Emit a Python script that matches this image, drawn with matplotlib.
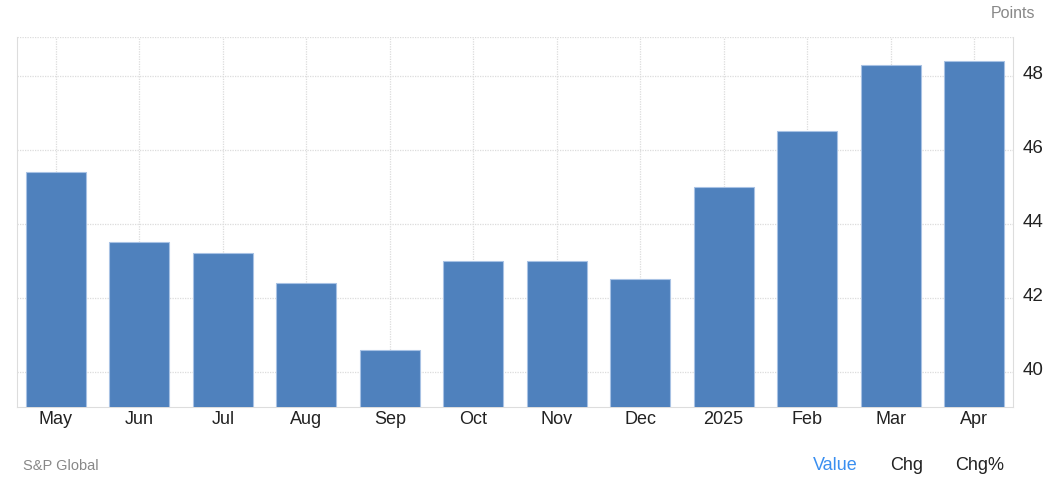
import matplotlib
matplotlib.use("Agg")
import matplotlib.pyplot as plt
from matplotlib.transforms import ScaledTranslation

plt.rcParams["font.family"] = "Liberation Sans"

# 데이터
months = ["May", "Jun", "Jul", "Aug", "Sep", "Oct", "Nov", "Dec", "2025", "Feb", "Mar", "Apr"]
values = [45.4, 43.5, 43.2, 42.4, 40.6, 43.0, 43.0, 42.5, 45.0, 46.5, 48.3, 48.4]
yticks = [40, 42, 44, 46, 48]

fig = plt.figure(figsize=(10.47, 4.8), dpi=100)
ax = fig.add_axes([17 / 1047, 1 - 407 / 480, (1013 - 17) / 1047, (407 - 37) / 480])

x = list(range(len(months)))
ax.bar(x, values, width=0.72, color="#4f81bd", edgecolor="#a8c2e4", linewidth=0.8, zorder=3)

ax.set_xlim(-0.467, len(months) - 1 + 0.467)
ax.set_ylim(39.05, 49.05)
ax.set_xticks(x)
ax.set_xticklabels(months)
ax.set_yticks(yticks)
ax.yaxis.tick_right()
ax.tick_params(axis="x", length=0, labelsize=13, colors="#222222", pad=3)
ax.tick_params(axis="y", length=0, labelsize=13.5, colors="#222222", pad=7)

# 눈금 라벨을 살짝 위로
for lbl in ax.get_yticklabels():
    lbl.set_transform(lbl.get_transform() + ScaledTranslation(0, 3 / 100, fig.dpi_scale_trans))

ax.grid(True, color="#dcdcdc", linestyle=(0, (1, 1)), linewidth=0.9, zorder=0)
for s in ["left", "right", "bottom"]:
    ax.spines[s].set_color("#dddddd")
ax.spines["top"].set_visible(False)
ax.axhline(49.05, color="#dcdcdc", linestyle=(0, (1, 1)), linewidth=0.9, zorder=0)

fig.text(1035 / 1047, 1 - 13 / 480, "Points", ha="right", va="center", fontsize=11.5, color="#888888")
fig.text(23 / 1047, 1 - 466 / 480, "S&P Global", ha="left", va="center", fontsize=10.5, color="#888888")
fig.text(835 / 1047, 1 - 466 / 480, "Value", ha="center", va="center", fontsize=13, color="#3a8ff0")
fig.text(907 / 1047, 1 - 466 / 480, "Chg", ha="center", va="center", fontsize=13, color="#222222")
fig.text(980 / 1047, 1 - 466 / 480, "Chg%", ha="center", va="center", fontsize=13, color="#222222")

fig.savefig("out.png", dpi=100)
